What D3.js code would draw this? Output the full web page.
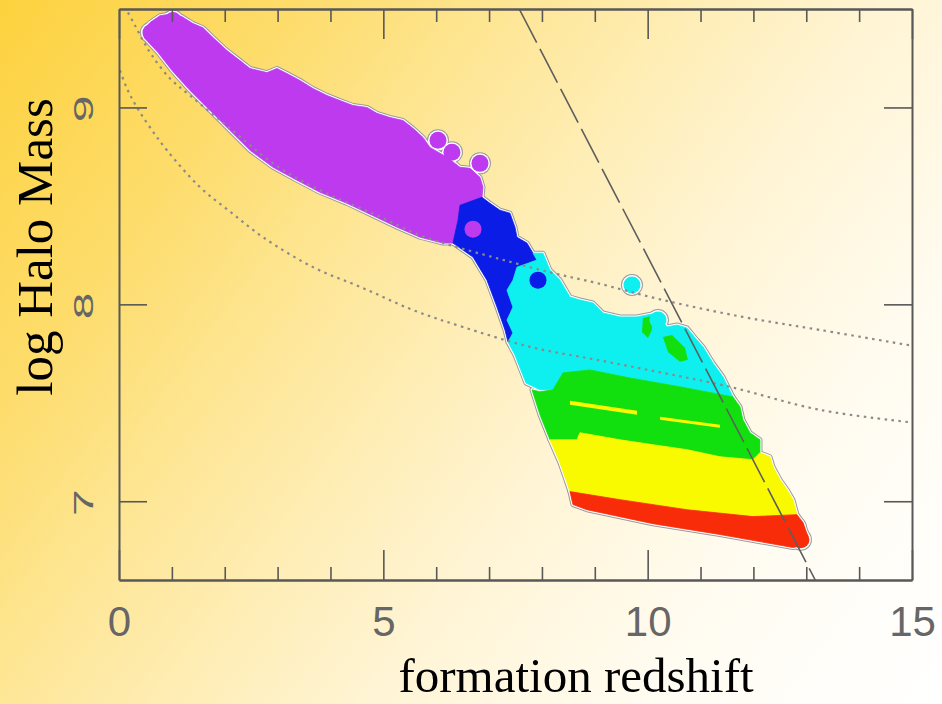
<!DOCTYPE html>
<html>
<head>
<meta charset="utf-8">
<script src="https://cdn.jsdelivr.net/npm/d3@7/dist/d3.min.js"></script>
<style>
html,body{margin:0;padding:0;background:#fff;}
svg{display:block;}
</style>
</head>
<body>
<svg id="chart" width="942" height="704"></svg>
<script>
// ---------- data (formation redshift z, log halo mass) ----------
const xMajorTicks = [0, 5, 10, 15];
const xMinorTicks = [1, 2, 3, 4, 6, 7, 8, 9, 11, 12, 13, 14];
const yTicks = [7, 8, 9];
const xLabel = "formation redshift";
const yLabel = "log Halo Mass";

// envelope of each colour-coded halo population
const purpleRegion = [[0.454,9.390],[0.586,9.431],[0.775,9.466],[1.021,9.476],[1.192,9.461],[1.400,9.426],[1.589,9.405],[1.778,9.355],[2.043,9.289],[2.289,9.238],[2.478,9.198],[2.799,9.177],[2.988,9.198],[3.178,9.172],[3.423,9.137],[3.669,9.096],[3.934,9.061],[4.180,9.035],[4.426,9.010],[4.691,9.000],[4.880,8.970],[5.126,8.949],[5.372,8.934],[5.561,8.894],[5.750,8.848],[5.882,8.797],[6.204,8.747],[6.450,8.696],[6.639,8.691],[6.828,8.645],[6.885,8.595],[6.866,8.544],[6.450,8.503],[6.412,8.427],[6.317,8.311],[6.128,8.311],[5.693,8.341],[5.258,8.392],[4.785,8.453],[4.312,8.513],[3.802,8.569],[3.367,8.630],[2.913,8.696],[2.478,8.782],[2.099,8.883],[1.721,8.985],[1.343,9.086],[1.002,9.188],[0.738,9.279],[0.492,9.350]];
const blueRegion = [[6.866,8.544],[7.017,8.513],[7.206,8.478],[7.395,8.463],[7.490,8.392],[7.528,8.341],[7.717,8.311],[7.831,8.260],[7.906,8.225],[7.528,8.189],[7.452,8.123],[7.339,8.072],[7.452,7.986],[7.339,7.920],[7.452,7.855],[7.358,7.809],[7.301,7.870],[7.150,7.986],[6.960,8.123],[6.696,8.240],[6.317,8.311],[6.412,8.427],[6.450,8.503]];
const cyanRegion = [[7.831,8.260],[8.020,8.260],[8.152,8.174],[8.341,8.123],[8.530,8.037],[8.719,8.022],[8.965,8.007],[9.154,7.956],[9.476,7.936],[9.798,7.936],[9.987,7.946],[10.176,7.956],[10.365,7.885],[10.554,7.895],[10.743,7.880],[10.932,7.819],[11.046,7.784],[11.235,7.702],[11.424,7.632],[11.613,7.530],[10.611,7.581],[9.665,7.626],[8.909,7.667],[8.398,7.652],[8.209,7.566],[7.963,7.566],[7.698,7.601],[7.490,7.743],[7.358,7.809],[7.452,7.855],[7.339,7.920],[7.452,7.986],[7.339,8.072],[7.452,8.123],[7.528,8.189],[7.906,8.225]];
const greenRegion = [[7.812,7.566],[7.963,7.556],[8.209,7.566],[8.398,7.652],[8.909,7.667],[9.665,7.626],[10.611,7.581],[11.613,7.530],[11.746,7.480],[11.802,7.414],[11.935,7.348],[12.124,7.312],[12.124,7.246],[11.991,7.211],[11.367,7.226],[10.743,7.262],[10.100,7.287],[9.476,7.312],[8.719,7.348],[8.663,7.312],[8.152,7.312],[7.963,7.439]];
const yellowRegion = [[8.152,7.312],[8.663,7.312],[8.719,7.348],[9.476,7.312],[10.100,7.287],[10.743,7.262],[11.367,7.226],[11.991,7.211],[12.124,7.246],[12.313,7.226],[12.370,7.175],[12.502,7.110],[12.635,7.059],[12.748,7.008],[12.824,6.932],[11.991,6.922],[10.743,6.957],[9.476,7.008],[8.530,7.049],[8.474,7.094],[8.341,7.196]];
const redRegion = [[8.530,7.049],[9.476,7.008],[10.743,6.957],[11.991,6.922],[12.824,6.932],[12.937,6.892],[13.032,6.821],[12.937,6.775],[12.748,6.765],[11.367,6.831],[10.100,6.886],[8.852,6.957],[8.587,6.983]];
// small sub-populations
const greenPatches = [
  [[9.911,7.931],[10.081,7.941],[10.081,7.870],[10.006,7.829],[9.892,7.860]],
  [[10.289,7.834],[10.460,7.844],[10.705,7.779],[10.762,7.718],[10.611,7.708],[10.384,7.758]]
];
const yellowStreaks = [
  [[8.530,7.510],[9.798,7.459],[9.798,7.439],[8.530,7.490]],
  [[10.233,7.429],[11.367,7.388],[11.367,7.373],[10.233,7.414]]
];
// isolated halos at the edges
const purpleHalos = [[0.605,9.380],[1.021,9.441],[6.034,8.833],[6.298,8.772],[6.828,8.716],[6.696,8.382]];
const blueHalos = [[7.925,8.123]];
const cyanHalos = [[9.703,8.098],[10.195,7.920]];
const redHalos = [[12.805,6.866],[12.899,6.805]];

// reference curves
const dashedLimit = [[7.57,9.50],[13.17,6.60]];
const dottedUpper = [[0.170,9.482],[0.303,9.416],[0.454,9.340],[0.624,9.264],[0.965,9.147],[1.343,9.061],[2.099,8.894],[2.913,8.716],[3.802,8.579],[4.785,8.463],[5.693,8.351],[6.261,8.301],[7.206,8.230],[8.209,8.159],[9.041,8.108],[10.289,8.022],[11.802,7.936],[13.259,7.870],[15.0,7.79]];
const dottedLower = [[0.019,9.188],[0.151,9.096],[0.340,9.000],[0.586,8.899],[0.908,8.782],[1.532,8.595],[2.137,8.463],[2.724,8.341],[3.669,8.189],[4.615,8.083],[5.561,7.971],[6.506,7.885],[7.774,7.784],[9.041,7.718],[10.289,7.652],[11.556,7.581],[13.259,7.464],[15.0,7.40]];

// ---------- drawing ----------
const svg = d3.select("#chart");
const W = 942, H = 704;
const x = d3.scaleLinear().domain([0, 15]).range([119, 912]);
const y = d3.scaleLinear().domain([6.6, 9.5]).range([580, 9]);

const defs = svg.append("defs");
const grad = defs.append("linearGradient").attr("id", "bg")
  .attr("gradientUnits", "userSpaceOnUse")
  .attr("x1", 0).attr("y1", 0).attr("x2", W).attr("y2", H);
[[0, "#FDD23E"], [0.2, "#FDDC6A"], [0.4, "#FEE9A2"], [0.6, "#FFF4D3"], [0.8, "#FFFCF2"], [1, "#FFFFFF"]]
  .forEach(s => grad.append("stop").attr("offset", s[0]).attr("stop-color", s[1]));
defs.append("clipPath").attr("id", "plotclip").append("rect")
  .attr("x", x(0)).attr("y", y(9.5)).attr("width", x(15) - x(0)).attr("height", y(6.6) - y(9.5));

svg.append("rect").attr("width", W).attr("height", H).attr("fill", "url(#bg)");

const line = d3.line().x(d => x(d[0])).y(d => y(d[1]));
const closed = d3.line().x(d => x(d[0])).y(d => y(d[1])).curve(d3.curveLinearClosed);

const regions = [
  {pts: purpleRegion, c: "#BD3AEF"},
  {pts: blueRegion, c: "#0A1CE6"},
  {pts: cyanRegion, c: "#0EF0F0"},
  {pts: greenRegion, c: "#12E00E"},
  {pts: yellowRegion, c: "#F9F900"},
  {pts: redRegion, c: "#F92C0A"}
];
const halos = [
  {pts: purpleHalos, c: "#BD3AEF"},
  {pts: blueHalos, c: "#0A1CE6"},
  {pts: cyanHalos, c: "#0EF0F0"},
  {pts: redHalos, c: "#F92C0A"}
];
const R = 8.5;

const plot = svg.append("g").attr("clip-path", "url(#plotclip)");

// outline layers (gray ring + white halo) around the union
[["#9a9a9a", 5], ["#ffffff", 3]].forEach(([col, w]) => {
  const g = plot.append("g");
  regions.forEach(r => g.append("path").attr("d", closed(r.pts)).attr("fill", col).attr("stroke", col).attr("stroke-width", w).attr("stroke-linejoin", "round"));
  halos.forEach(h => g.selectAll(null).data(h.pts).enter().append("circle")
    .attr("cx", d => x(d[0])).attr("cy", d => y(d[1])).attr("r", R + w / 2).attr("fill", col));
});

// fills
regions.forEach(r => plot.append("path").attr("d", closed(r.pts)).attr("fill", r.c).attr("stroke", r.c).attr("stroke-width", 0.8));
greenPatches.forEach(p => plot.append("path").attr("d", closed(p)).attr("fill", "#12E00E"));
yellowStreaks.forEach(p => plot.append("path").attr("d", closed(p)).attr("fill", "#F9F900"));
halos.forEach(h => plot.selectAll(null).data(h.pts).enter().append("circle")
  .attr("cx", d => x(d[0])).attr("cy", d => y(d[1])).attr("r", R).attr("fill", h.c));

// reference curves
const smooth = d3.line().x(d => x(d[0])).y(d => y(d[1])).curve(d3.curveCatmullRom);
[dottedUpper, dottedLower].forEach(c => plot.append("path").attr("d", smooth(c))
  .attr("fill", "none").attr("stroke", "#8a8a8a").attr("stroke-width", 2.2)
  .attr("stroke-dasharray", "2.5 4.5"));
plot.append("path").attr("d", line(dashedLimit)).attr("fill", "none")
  .attr("stroke", "#5e5e5e").attr("stroke-width", 1.6).attr("stroke-dasharray", "38 7");

// ---------- axes ----------
const axStyle = g => {
  g.selectAll(".domain").attr("stroke", "#585858").attr("stroke-width", 2);
  g.selectAll(".tick line").attr("stroke", "#585858").attr("stroke-width", 1.6);
};
svg.append("g").attr("transform", `translate(0,${y(6.6)})`)
  .call(d3.axisBottom(x).tickValues(xMinorTicks).tickSizeInner(-13).tickSizeOuter(0).tickFormat(""))
  .call(axStyle);
const bottomMajor = svg.append("g").attr("transform", `translate(0,${y(6.6)})`)
  .call(d3.axisBottom(x).tickValues(xMajorTicks).tickSizeInner(-30).tickSizeOuter(0).tickPadding(26).tickFormat(d3.format("d")))
  .call(axStyle);
bottomMajor.selectAll(".tick text")
  .attr("font-family", "'Liberation Sans', Arial, sans-serif").attr("font-size", 42)
  .attr("fill", "#666666");

svg.append("g").attr("transform", `translate(0,${y(9.5)})`)
  .call(d3.axisTop(x).tickValues(xMinorTicks).tickSizeInner(-13).tickSizeOuter(0).tickFormat(""))
  .call(axStyle);
svg.append("g").attr("transform", `translate(0,${y(9.5)})`)
  .call(d3.axisTop(x).tickValues(xMajorTicks).tickSizeInner(-30).tickSizeOuter(0).tickFormat(""))
  .call(axStyle);

const leftAx = svg.append("g").attr("transform", `translate(${x(0)},0)`)
  .call(d3.axisLeft(y).tickValues(yTicks).tickSizeInner(-28).tickSizeOuter(0).tickFormat(d3.format("d")))
  .call(axStyle);
leftAx.selectAll(".tick text")
  .attr("x", null).attr("dy", null).attr("text-anchor", "middle")
  .attr("dominant-baseline", "central")
  .attr("transform", "translate(-36,1) rotate(-90) scale(1.2,0.7)")
  .attr("font-family", "'Liberation Sans', Arial, sans-serif").attr("font-size", 40)
  .attr("fill", "#666666");

svg.append("g").attr("transform", `translate(${x(15)},0)`)
  .call(d3.axisRight(y).tickValues(yTicks).tickSizeInner(-28).tickSizeOuter(0).tickFormat(""))
  .call(axStyle);

// titles
svg.append("text").attr("x", 576).attr("y", 692).attr("text-anchor", "middle")
  .attr("font-family", "'Liberation Serif', 'Times New Roman', serif").attr("font-size", 49)
  .attr("fill", "#000").text(xLabel);
svg.append("text").attr("transform", "translate(52,247) rotate(-90)").attr("text-anchor", "middle")
  .attr("font-family", "'Liberation Serif', 'Times New Roman', serif").attr("font-size", 51)
  .attr("fill", "#000").text(yLabel);
</script>
</body>
</html>
